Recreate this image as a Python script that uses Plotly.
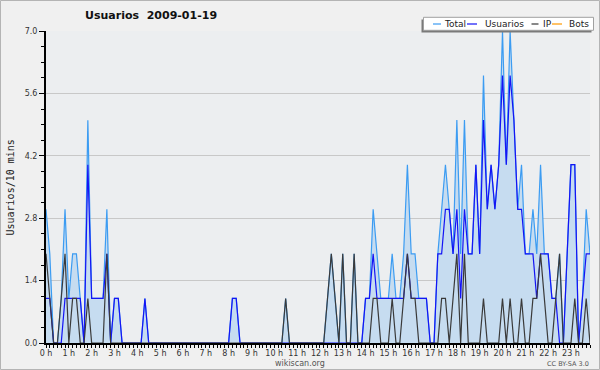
import plotly.graph_objects as go

# 10-minute slots of 2009-01-19
times = [f"{h:02d}:{m:02d}" for h in range(24) for m in range(0, 60, 10)]
slot_hours = [int(t[:2]) + int(t[3:]) / 60 for t in times]

total = [
    3, 2, 0, 0, 1, 3, 1, 2, 2, 1, 0, 5,
    1, 1, 1, 1, 3, 0, 1, 1, 0, 0, 0, 0,
    0, 0, 1, 0, 0, 0, 0, 0, 0, 0, 0, 0,
    0, 0, 0, 0, 0, 0, 0, 0, 0, 0, 0, 0,
    0, 1, 1, 0, 0, 0, 0, 0, 0, 0, 0, 0,
    0, 0, 0, 1, 0, 0, 0, 0, 0, 0, 0, 0,
    0, 0, 1, 2, 1, 0, 2, 0, 0, 2, 0, 0,
    1, 1, 3, 2, 1, 1, 1, 2, 1, 1, 2, 4,
    2, 2, 1, 1, 1, 0, 0, 2, 3, 4, 3, 2,
    5, 2, 5, 2, 2, 4, 2, 6, 3, 4, 3, 4,
    7, 4, 7, 5, 3, 4, 2, 2, 3, 2, 4, 2,
    2, 1, 1, 2, 0, 2, 4, 4, 0, 1, 3, 2,
]
usuarios = [
    1, 1, 0, 0, 0, 1, 1, 1, 1, 1, 0, 4,
    1, 1, 1, 1, 2, 0, 1, 1, 0, 0, 0, 0,
    0, 0, 1, 0, 0, 0, 0, 0, 0, 0, 0, 0,
    0, 0, 0, 0, 0, 0, 0, 0, 0, 0, 0, 0,
    0, 1, 1, 0, 0, 0, 0, 0, 0, 0, 0, 0,
    0, 0, 0, 0, 0, 0, 0, 0, 0, 0, 0, 0,
    0, 0, 0, 0, 0, 0, 0, 0, 0, 0, 0, 0,
    1, 1, 2, 1, 1, 1, 1, 1, 1, 1, 1, 2,
    1, 1, 1, 1, 1, 0, 0, 2, 2, 3, 3, 2,
    3, 1, 3, 2, 2, 4, 2, 5, 3, 4, 3, 4,
    6, 4, 6, 5, 3, 3, 2, 2, 2, 1, 2, 2,
    2, 1, 1, 0, 0, 2, 4, 4, 0, 1, 2, 2,
]
ip = [
    2, 1, 0, 0, 1, 2, 0, 1, 1, 0, 0, 1,
    0, 0, 0, 0, 2, 0, 0, 0, 0, 0, 0, 0,
    0, 0, 0, 0, 0, 0, 0, 0, 0, 0, 0, 0,
    0, 0, 0, 0, 0, 0, 0, 0, 0, 0, 0, 0,
    0, 0, 0, 0, 0, 0, 0, 0, 0, 0, 0, 0,
    0, 0, 0, 1, 0, 0, 0, 0, 0, 0, 0, 0,
    0, 0, 1, 2, 1, 0, 2, 0, 0, 2, 0, 0,
    0, 0, 1, 1, 0, 0, 0, 1, 0, 0, 1, 2,
    1, 1, 0, 0, 0, 0, 0, 0, 1, 1, 0, 1,
    2, 0, 2, 0, 0, 0, 0, 1, 0, 0, 0, 0,
    1, 0, 1, 0, 0, 1, 0, 0, 1, 1, 2, 1,
    0, 0, 1, 2, 0, 0, 0, 1, 0, 0, 1, 0,
]
bots = [
    0, 0, 0, 0, 0, 0, 0, 0, 0, 0, 0, 0,
    0, 0, 0, 0, 0, 0, 0, 0, 0, 0, 0, 0,
    0, 0, 0, 0, 0, 0, 0, 0, 0, 0, 0, 0,
    0, 0, 0, 0, 0, 0, 0, 0, 0, 0, 0, 0,
    0, 0, 0, 0, 0, 0, 0, 0, 0, 0, 0, 0,
    0, 0, 0, 0, 0, 0, 0, 0, 0, 0, 0, 0,
    0, 0, 0, 0, 0, 0, 0, 0, 0, 0, 0, 0,
    0, 0, 0, 0, 0, 0, 0, 0, 0, 0, 0, 0,
    0, 0, 0, 0, 0, 0, 0, 0, 0, 0, 0, 0,
    0, 0, 0, 0, 0, 0, 0, 0, 0, 0, 0, 0,
    0, 0, 0, 0, 0, 0, 0, 0, 0, 0, 0, 0,
    0, 0, 0, 0, 0, 0, 0, 0, 0, 0, 0, 0,
]

colors = {"Total": "#3c9cf2", "Usuarios": "#1414f5", "IP": "#3a3a3a", "Bots": "#ff9a00"}
title_text = "Usuarios\u00a0\u00a02009-01-19"
y_title = "Usuarios/10 mins"

W, H = 600, 370
L, R, T, B = 46, 10, 31, 27


def PX(x):
    return (x - L) / (W - L - R)


def PY(y):
    return (H - B - y) / (H - T - B)


fig = go.Figure()
# Bots drawn first so the other series (at zero) cover it
fig.add_trace(go.Scatter(x=slot_hours, y=bots, name="Bots", mode="lines",
                         line=dict(color=colors["Bots"], width=1.2)))
fig.add_trace(go.Scatter(x=slot_hours, y=total, name="Total", mode="lines",
                         line=dict(color=colors["Total"], width=1.2),
                         fill="tozeroy", fillcolor="#c6dcf0"))
fig.add_trace(go.Scatter(x=slot_hours, y=usuarios, name="Usuarios", mode="lines",
                         line=dict(color=colors["Usuarios"], width=1.2)))
fig.add_trace(go.Scatter(x=slot_hours, y=ip, name="IP", mode="lines",
                         line=dict(color=colors["IP"], width=1.2)))

font_main = "DejaVu Sans"

fig.update_layout(
    width=W, height=H, autosize=False,
    margin=dict(l=L, r=R, t=T, b=B, pad=0, autoexpand=False),
    paper_bgcolor="#f0f0f0",
    plot_bgcolor="#eceef0",
    showlegend=False,
    font=dict(family=font_main, size=8, color="#333333"),
)
fig.update_xaxes(
    range=[0, slot_hours[-1]], automargin=False,
    tickmode="linear", tick0=0, dtick=1, tickformat="d", ticksuffix=" h",
    ticks="outside", ticklen=3, tickwidth=1, tickcolor="black",
    ticklabelstandoff=-2,
    minor=dict(dtick=1 / 6, ticks="outside", ticklen=3, tickwidth=1, tickcolor="black", showgrid=False),
    showgrid=False, zeroline=False,
    showline=True, linecolor="black", linewidth=2,
    tickfont=dict(family=font_main, size=8, color="#333333"),
)
fig.update_yaxes(
    range=[0, 7], automargin=False,
    tickmode="linear", tick0=0, dtick=1.4, tickformat=".1f",
    ticks="outside", ticklen=5, tickwidth=1, tickcolor="black",
    minor=dict(dtick=0.35, ticks="outside", ticklen=3, tickwidth=1, tickcolor="black", showgrid=False),
    showgrid=True, gridcolor="#c8c8c8", gridwidth=1,
    zeroline=False,
    showline=True, linecolor="black", linewidth=2,
    tickfont=dict(family=font_main, size=8, color="#333333"),
)

shapes = []
annotations = []

# outer border
shapes.append(dict(type="rect", xref="paper", yref="paper",
                   x0=PX(0.5), x1=PX(W - 0.5), y0=PY(H - 0.5), y1=PY(0.5),
                   line=dict(color="#b4b4b4", width=1), fillcolor="rgba(0,0,0,0)", layer="below"))

# legend box with shadow
shapes.append(dict(type="rect", xref="paper", yref="paper",
                   x0=PX(421.5), x1=PX(591.5), y0=PY(32.5), y1=PY(19.5),
                   line=dict(width=0), fillcolor="#7a7a7a"))
shapes.append(dict(type="rect", xref="paper", yref="paper",
                   x0=PX(423.5), x1=PX(593.5), y0=PY(30.3), y1=PY(17.3),
                   line=dict(color="#a0a0a0", width=1), fillcolor="white"))

legend_items = [("Total", 433, 441, 443), ("Usuarios", 467, 477, 484),
                ("IP", 531.5, 538.5, 542), ("Bots", 552, 562, 568)]
for name, lx0, lx1, tx in legend_items:
    shapes.append(dict(type="line", xref="paper", yref="paper",
                       x0=PX(lx0), x1=PX(lx1), y0=PY(24), y1=PY(24),
                       line=dict(color=colors[name], width=1.2)))
    annotations.append(dict(text=name, xref="paper", yref="paper", x=PX(tx), y=PY(24.3),
                            xanchor="left", yanchor="middle", showarrow=False, borderpad=0,
                            font=dict(family=font_main, size=9, color="#222222")))

annotations.append(dict(text=f"<b>{title_text}</b>", xref="paper", yref="paper",
                        x=PX(151), y=PY(15.5), xanchor="center", yanchor="middle", showarrow=False,
                        borderpad=0,
                        font=dict(family=font_main, size=11, color="#111111")))
annotations.append(dict(text=y_title, xref="paper", yref="paper",
                        x=PX(9.5), y=PY(188), xanchor="center", yanchor="middle", showarrow=False,
                        textangle=-90, borderpad=0,
                        font=dict(family="DejaVu Sans Mono", size=10, color="#222222")))
annotations.append(dict(text="wikiscan.org", xref="paper", yref="paper",
                        x=PX(300), y=PY(363.5), xanchor="center", yanchor="middle", showarrow=False,
                        borderpad=0,
                        font=dict(family=font_main, size=8, color="#555555")))
annotations.append(dict(text="CC BY-SA 3.0", xref="paper", yref="paper",
                        x=PX(590), y=PY(363.5), xanchor="right", yanchor="middle", showarrow=False,
                        borderpad=0,
                        font=dict(family=font_main, size=6.5, color="#555555")))

fig.update_layout(shapes=shapes, annotations=annotations)
fig.write_html("out.html", config={"displayModeBar": False},
               post_script="document.body.style.margin='0';document.body.style.overflow='hidden';")
